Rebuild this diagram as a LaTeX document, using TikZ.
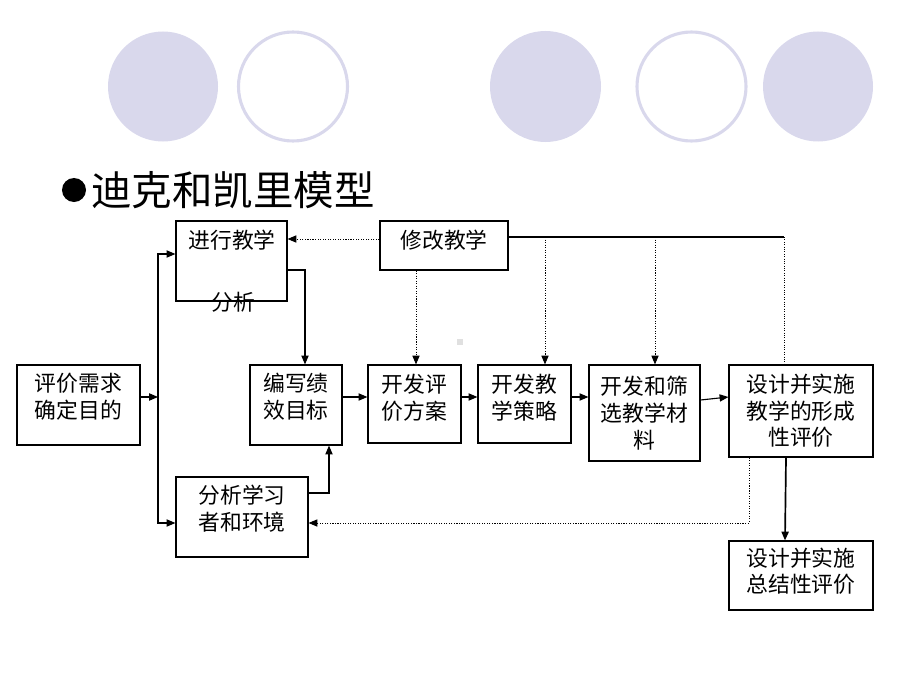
\documentclass[tikz,border=0pt]{standalone}
\usepackage{fontspec}
\setmainfont{Noto Sans CJK SC}
\usetikzlibrary{arrows.meta}
\definecolor{dotlav}{HTML}{D9D8EC}
\definecolor{specgray}{HTML}{E0E0E0}

\begin{document}
\begin{tikzpicture}[
    x=0.025cm, y=-0.025cm,
    box/.style={draw, rectangle, line width=0.8pt, inner sep=0pt, align=center, font=\fontsize{15.5}{19}\selectfont},
    lift/.style={text depth=#1},
    lbl/.style={inner sep=0pt, font=\fontsize{15.5}{19}\selectfont},
    arrow/.style={-{Triangle[length=2.2mm,width=1.8mm]}, line width=0.8pt},
    dotarrow/.style={arrow, densely dotted, line width=0.7pt},
    ring/.style={draw=dotlav, line width=2.2pt},
    disc/.style={fill=dotlav}
]
\useasboundingbox (0,0) rectangle (920,690);

\fill[disc] (163,86.5) circle (55);
\draw[ring] (293,86.5) circle (54.5);
\fill[disc] (545.5,86.5) circle (55.5);
\draw[ring] (691.5,86.5) circle (54.5);
\fill[disc] (818,86.5) circle (55);

\node[circle, fill, minimum size=0.6cm, inner sep=0pt] (bullet) at (74,190) {};
\node[anchor=west, inner sep=0pt, font=\fontsize{28.8}{30}\selectfont] (title) at (91,190) {迪克和凯里模型};

\node[box, lift=13pt, minimum width=3.075cm, minimum height=2cm] (needs) at (78.5,405) {评价需求\\确定目的};
\node[box, minimum width=2.775cm, minimum height=2cm] (teach) at (231.5,261) {};
\node[lbl] (teachtop) at (232,240) {进行教学};
\node[lbl] (teachbot) at (233,302) {分析};
\node[box, lift=9pt, minimum width=3.2cm, minimum height=1.225cm] (revise) at (444,245.5) {修改教学};
\node[box, lift=13pt, minimum width=2.3cm, minimum height=2cm] (objectives) at (296,405) {编写绩\\效目标};
\node[box, lift=13pt, minimum width=3.3cm, minimum height=2cm] (learners) at (242,517) {分析学习\\者和环境};
\node[box, lift=10.4pt, minimum width=2.325cm, minimum height=1.95cm] (assess) at (414.5,404) {开发评\\价方案};
\node[box, lift=10.4pt, minimum width=2.325cm, minimum height=1.95cm] (strategy) at (524.5,404) {开发教\\学策略};
\node[box, minimum width=2.775cm, minimum height=2.4cm] (materials) at (644.5,413) {开发和筛\\选教学材\\料};
\node[box, minimum width=3.6cm, minimum height=2.3cm] (formative) at (801,411) {设计并实施\\教学的形成\\性评价};
\node[box, lift=7.6pt, minimum width=3.6cm, minimum height=1.725cm] (summative) at (801,575.5) {设计并实施\\总结性评价};

\coordinate (split) at (158,397);
\coordinate (fbcorner) at (784,237);

\draw[arrow] (needs.east |- split) -- (split);
\draw[arrow] (split) |- (teach.west |- 0,254);
\draw[arrow] (split) |- (learners.west |- 0,523);
\draw[arrow] (teach.east |- 0,270) -| (objectives.north -| 305,0);
\draw[arrow] (learners.east |- 0,493) -| (objectives.south -| 329,0);
\draw[arrow] (objectives.east |- 0,397) -- (assess.west |- 0,397);
\draw[arrow] (assess.east |- 0,397) -- (strategy.west |- 0,397);
\draw[arrow] (strategy.east |- 0,397) -- (materials.west |- 0,397);
\draw[arrow] (materials.east |- 0,400) -- (formative.west |- 0,397);
\draw[arrow, line width=1.2pt] (formative.south -| 786,0) -- (summative.north -| 785,0);

\draw[dotarrow] (revise.west |- 0,239) -- (teach.east |- 0,239);
\draw[dotarrow] (revise.south -| 416,0) -- (assess.north -| 416,0);
\draw[line width=0.8pt] (revise.east |- fbcorner) -- (fbcorner);
\draw[densely dotted, line width=0.7pt] (fbcorner) -- (formative.north -| fbcorner);
\draw[dotarrow] (fbcorner -| 545,0) -- (strategy.north -| 545,0);
\draw[dotarrow] (fbcorner -| 655,0) -- (materials.north -| 655,0);
\draw[dotarrow] (formative.south -| 749,0) |- (learners.east |- 0,523);

\fill[specgray] (457,339) rectangle (463,345);
\end{tikzpicture}
\end{document}
